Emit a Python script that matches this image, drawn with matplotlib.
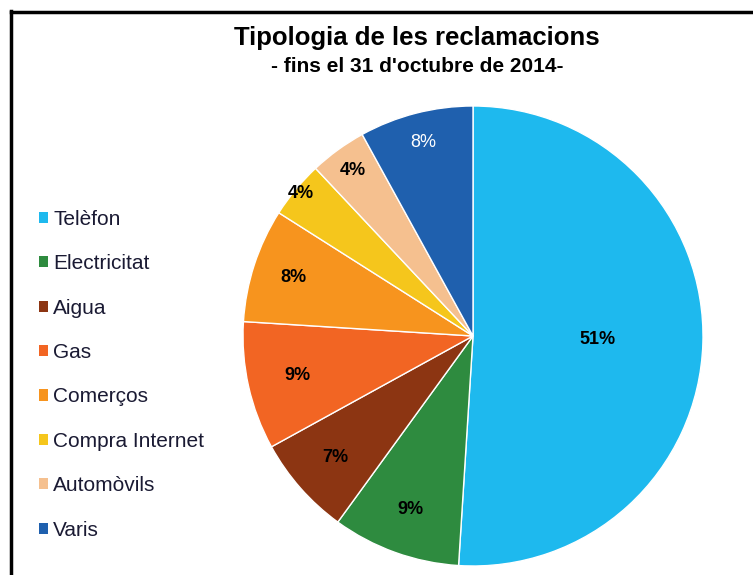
import numpy as np
import matplotlib.pyplot as plt
from matplotlib.lines import Line2D
from matplotlib.patches import Patch

# Dades
categories = ['Telèfon', 'Electricitat', 'Aigua', 'Gas', 'Comerços',
              'Compra Internet', 'Automòvils', 'Varis']
percentatges = [51, 9, 7, 9, 8, 4, 4, 8]
colors = ['#1EB9EE', '#2E8B3F', '#8C3512', '#F26523', '#F7941E',
          '#F5C61C', '#F5C08F', '#1F60AE']
label_colors = ['black'] * 7 + ['white']
label_dist = [0.54, 0.80, 0.80, 0.78, 0.82, 0.97, 0.89, 0.87]

W, H = 753, 575
fig = plt.figure(figsize=(W / 100, H / 100), dpi=100)
plt.rcParams['font.family'] = ['Liberation Sans', 'DejaVu Sans']

# Marc negre (només es veuen els costats esquerre i superior)
fig.add_artist(Line2D([10.5 / W, 10.5 / W], [0, 1 - 10.5 / H], color='black', lw=2.5))
fig.add_artist(Line2D([10.5 / W, 1], [1 - 11.5 / H, 1 - 11.5 / H], color='black', lw=2.5))

# Pastís
cx, cy, r = 473, 336, 230
ax = fig.add_axes([(cx - r) / W, (H - cy - r) / H, 2 * r / W, 2 * r / H])
wedges, texts, autotexts = ax.pie(percentatges, colors=colors, startangle=90,
                                  counterclock=False, radius=1,
                                  autopct='%1.0f%%',
                                  wedgeprops=dict(edgecolor='white', linewidth=1))
for i, t in enumerate(autotexts):
    w = wedges[i]
    ang = np.deg2rad((w.theta1 + w.theta2) / 2)
    t.set_position((label_dist[i] * np.cos(ang), label_dist[i] * np.sin(ang)))
    t.set_color(label_colors[i])
    t.set_fontsize(13)
    t.set_fontweight('bold' if label_colors[i] == 'black' else 'normal')
ax.set_xlim(-1, 1)
ax.set_ylim(-1, 1)
ax.set_aspect('equal')
ax.axis('off')

# Títol
fig.text(417 / W, 1 - 38 / H, 'Tipologia de les reclamacions', ha='center', va='center',
         fontsize=18.5, fontweight='bold')
fig.text(417 / W, 1 - 66 / H, "- fins el 31 d'octubre de 2014-", ha='center', va='center',
         fontsize=15, fontweight='bold')

# Llegenda
handles = [Patch(facecolor=c, edgecolor='none') for c in colors]
fig.legend(handles, categories, loc='upper left', bbox_to_anchor=(20 / W, 1 - 191 / H),
           frameon=False, fontsize=15, handlelength=0.45, handleheight=0.45,
           handletextpad=0.25, labelspacing=1.22, labelcolor='#1a1a33')

fig.savefig('out.png', dpi=100)
